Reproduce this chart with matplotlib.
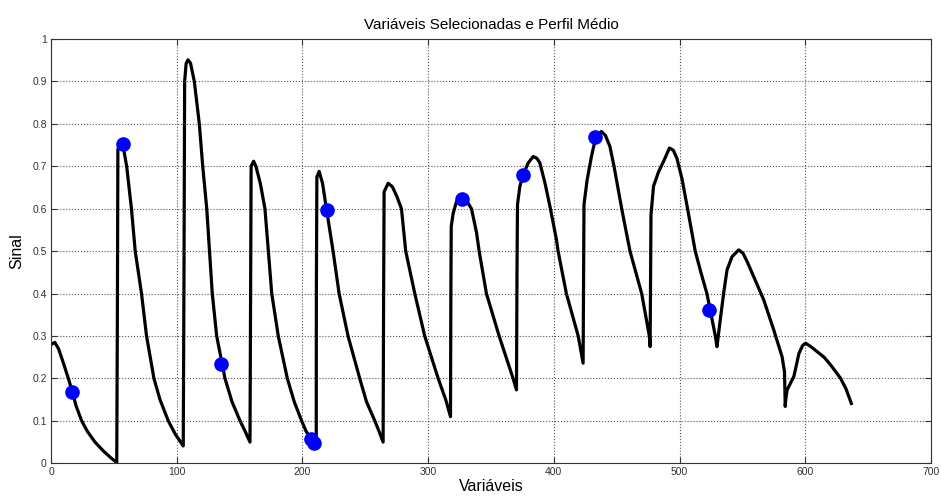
import matplotlib.pyplot as plt
from matplotlib.ticker import FuncFormatter

plt.rcParams['font.family'] = ['Liberation Sans', 'DejaVu Sans']

# perfil medio (variavel, sinal)
perfil_x = [0, 3, 6, 10, 13.8, 17, 20, 24.4, 29, 35, 42, 48, 52.3,
            52.8, 53.2, 55.5, 57.5, 60.2, 64, 67, 72, 76, 81.9, 86.7, 93.3, 99, 105.2,
            105.8, 106.3, 107.5, 109, 111, 114, 118, 120.7, 123.9, 128.3, 131.8, 138.4, 144, 150.4, 154.5, 158.3,
            158.8, 159.2, 161.2, 163, 166.5, 170.2, 175.6, 180.8, 188, 193.5, 199.4, 203, 207, 211,
            211.1, 211.5, 213.3, 216, 219.1, 224.4, 229.2, 236.3, 245.6, 251, 257.6, 261, 264.2,
            264.6, 265, 268.2, 271.5, 275, 278.8, 282.2, 289.4, 297.3, 308, 314, 317.8,
            318.1, 318.4, 319.9, 322.5, 325, 327.9, 331, 334.5, 338.5, 340.6, 346.4, 356.5, 367.6, 370.3,
            370.7, 371.1, 373, 375.6, 379.6, 383.6, 386.5, 388.9, 393, 397.3, 402.1, 403.4, 410, 419.4, 423.3,
            423.7, 424, 426.5, 430, 433.4, 437.9, 441, 444.6, 447.9, 454, 460.6, 469.9, 476, 476.6,
            477, 477.3, 479.3, 483.2, 487.2, 492, 495, 497.9, 502, 506.4, 512.5, 517, 521.8, 525.5, 528.5, 529.8,
            532.4, 535.1, 537.8, 541.8, 547.1, 550.5, 553.7, 559, 567, 575, 581.6, 583.5,
            584.1, 584.5, 585.6, 588.5, 591, 595, 598, 600.3, 604.5, 609.6, 615, 620.2, 628.2, 632.5, 636.7]
perfil_y = [0.280, 0.285, 0.270, 0.235, 0.200, 0.168, 0.135, 0.100, 0.075, 0.050, 0.028, 0.012, 0.002,
            0.350, 0.740, 0.752, 0.745, 0.700, 0.600, 0.500, 0.400, 0.300, 0.200, 0.150, 0.100, 0.068, 0.041,
            0.450, 0.900, 0.942, 0.951, 0.943, 0.900, 0.800, 0.700, 0.600, 0.400, 0.300, 0.200, 0.145, 0.100, 0.075, 0.050,
            0.400, 0.700, 0.712, 0.700, 0.660, 0.600, 0.400, 0.300, 0.200, 0.145, 0.100, 0.075, 0.058, 0.045,
            0.400, 0.675, 0.688, 0.660, 0.600, 0.500, 0.400, 0.300, 0.200, 0.145, 0.100, 0.075, 0.050,
            0.400, 0.640, 0.660, 0.652, 0.630, 0.600, 0.500, 0.400, 0.300, 0.200, 0.150, 0.110,
            0.400, 0.558, 0.589, 0.616, 0.624, 0.625, 0.617, 0.600, 0.544, 0.500, 0.400, 0.300, 0.200, 0.173,
            0.450, 0.610, 0.653, 0.680, 0.708, 0.723, 0.719, 0.708, 0.660, 0.600, 0.527, 0.500, 0.400, 0.300, 0.236,
            0.450, 0.610, 0.668, 0.724, 0.769, 0.782, 0.773, 0.747, 0.700, 0.600, 0.500, 0.400, 0.300, 0.275,
            0.450, 0.585, 0.653, 0.686, 0.711, 0.743, 0.738, 0.719, 0.670, 0.600, 0.500, 0.450, 0.400, 0.345, 0.300, 0.275,
            0.338, 0.401, 0.456, 0.487, 0.503, 0.495, 0.476, 0.440, 0.385, 0.314, 0.251, 0.216,
            0.134, 0.150, 0.173, 0.190, 0.205, 0.259, 0.278, 0.283, 0.275, 0.263, 0.250, 0.232, 0.200, 0.175, 0.141]

# variaveis selecionadas
sel_x = [17, 57, 135.5, 207, 209, 219.5, 327, 375.5, 433, 523.5]
sel_y = [0.168, 0.752, 0.235, 0.057, 0.048, 0.597, 0.622, 0.680, 0.769, 0.361]

fig = plt.figure(figsize=(9.41, 4.97), dpi=100)
ax = fig.add_axes([0.0542, 0.0678, 0.9351, 0.8537])

ax.plot(perfil_x, perfil_y, color='black', linewidth=2.3, solid_joinstyle='round')
ax.plot(sel_x, sel_y, linestyle='none', marker='o', markersize=9.5,
        markerfacecolor='#0000ff', markeredgecolor='#0000ff')

ax.set_xlim(0, 700)
ax.set_ylim(0, 1)
ax.set_xticks(range(0, 701, 100))
ax.set_yticks([i / 10 for i in range(11)])
ax.yaxis.set_major_formatter(FuncFormatter(lambda v, p: '%g' % v))

ax.grid(True, linestyle=':', color='#555555', linewidth=0.8)
ax.tick_params(direction='in', top=True, right=True, length=4, labelsize=7.5,
               colors='#333333', pad=3)
for s in ax.spines.values():
    s.set_color('#333333')
    s.set_linewidth(0.8)

ax.set_title('Variáveis Selecionadas e Perfil Médio', fontsize=11, pad=7)
ax.set_xlabel('Variáveis', fontsize=11.5, labelpad=1)
ax.set_ylabel('Sinal', fontsize=11.5, labelpad=6)

fig.savefig('out.png', dpi=100)
